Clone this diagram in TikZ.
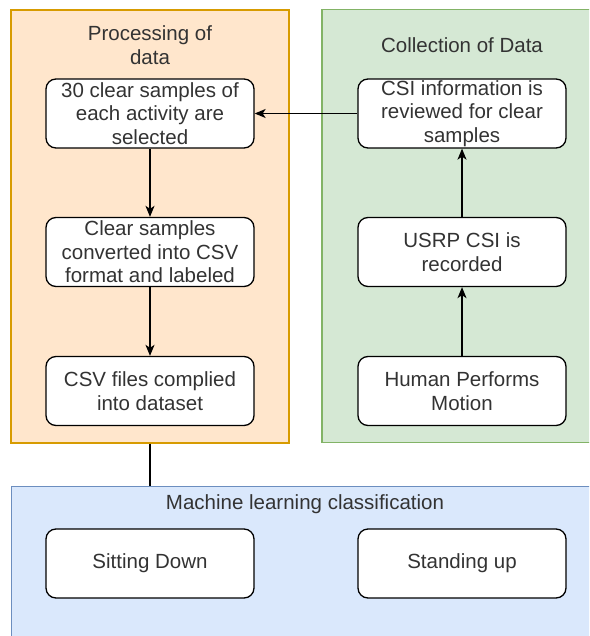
\documentclass[tikz,border=0pt]{standalone}
\usepackage{fontspec}
\setmainfont{Liberation Sans}
\usetikzlibrary{arrows.meta}
\definecolor{ofill}{HTML}{FFE6CC}
\definecolor{odraw}{HTML}{D79B00}
\definecolor{gfill}{HTML}{D5E8D4}
\definecolor{gdraw}{HTML}{82B366}
\definecolor{bfill}{HTML}{DAE8FC}
\definecolor{bdraw}{HTML}{6C8EBF}
\definecolor{txt}{HTML}{333333}
\begin{document}
\begin{tikzpicture}[x=1pt,y=-1pt,
  every node/.style={font=\fontsize{20.5}{23.5}\selectfont, text=txt, inner sep=0pt},
  container/.style={draw, line width=1.3pt, rectangle},
  stepbox/.style={draw=black, fill=white, rounded corners=10pt, line width=1.3pt,
    minimum width=208pt, minimum height=69pt, align=center},
  conn/.style={draw=black, line width=1.3pt},
  arr/.style={conn, -{Stealth[length=11pt,width=9pt,inset=3pt]}}
]
\useasboundingbox (0,0) rectangle (589,636);
\clip (0,0) rectangle (589,636);
% containers
\node[container, draw=odraw, fill=ofill, minimum width=278pt, minimum height=433pt] (proc) at (150,226.5) {};
\node[container, draw=gdraw, fill=gfill, minimum width=280pt, minimum height=433pt] (coll) at (462,226) {};
\node[container, draw=bdraw, fill=bfill, minimum width=620pt, minimum height=180pt, anchor=north west] (ml) at (10.5,486) {};
% titles
\node[align=center] (proctitle) at (150,45) {Processing of\\data};
\node (colltitle) at (462,45) {Collection of Data};
\node (mltitle) at (305,504) {Machine learning classification};
% processing nodes
\node[stepbox] (l1) at (150,113.5) {30 clear samples of\\each activity are\\selected};
\node[stepbox] (l2) at (150,252) {Clear samples\\converted into CSV\\format and labeled};
\node[stepbox] (l3) at (150,391) {CSV files complied\\into dataset};
% collection nodes
\node[stepbox] (r1) at (462,113.5) {CSI information is\\reviewed for clear\\samples};
\node[stepbox] (r2) at (462,252) {USRP CSI is\\recorded};
\node[stepbox] (r3) at (462,391) {Human Performs\\Motion};
% classification nodes
\node[stepbox] (sit) at (150,563.5) {Sitting Down};
\node[stepbox] (stand) at (462,563.5) {Standing up};
% connectors
\draw[arr] (r1.west) -- (l1.east);
\draw[arr] (l1.south) -- (l2.north);
\draw[arr] (l2.south) -- (l3.north);
\draw[arr] (r3.north) -- (r2.south);
\draw[arr] (r2.north) -- (r1.south);
\draw[conn] (proc.south) -- (proc.south |- ml.north);
\end{tikzpicture}
\end{document}
